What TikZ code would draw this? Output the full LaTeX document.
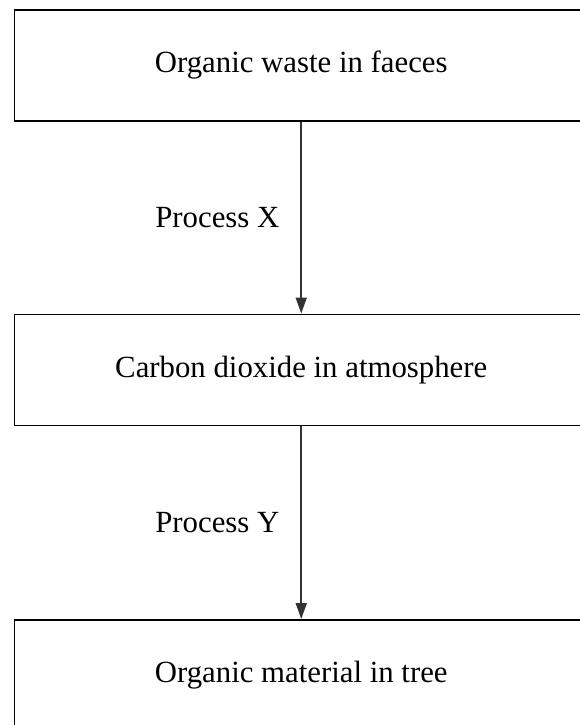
\documentclass[tikz,border=0pt]{standalone}
\usepackage{fontspec}
\setmainfont{Liberation Serif}
\usetikzlibrary{arrows.meta,positioning}
\tikzset{
  stage/.style={draw=black, line width=0.75pt, minimum width=286.5pt,
                minimum height=55.5pt, inner sep=0pt,
                font=\fontsize{15.4}{18}\selectfont},
  plabel/.style={font=\fontsize{15.4}{18}\selectfont, inner sep=0pt},
  flow/.style={-{Triangle[length=8pt, width=5.5pt]}, line width=0.9pt, draw=black!80},
}
\begin{document}
\begin{tikzpicture}[x=0.5pt, y=-0.5pt, node distance=96pt]
\path[use as bounding box, clip] (0,0) rectangle (580,725);
\node[stage, anchor=north west] (waste) at (14,9) {Organic waste in faeces};
\node[stage, below=of waste] (co2) {Carbon dioxide in atmosphere};
\node[stage, below=96.5pt of co2] (tree) {Organic material in tree};

\draw[flow] (waste) -- node[plabel, left=10.5pt] {Process X} (co2);
\draw[flow] (co2) -- node[plabel, left=10.5pt] {Process Y} (tree);
\end{tikzpicture}
\end{document}
